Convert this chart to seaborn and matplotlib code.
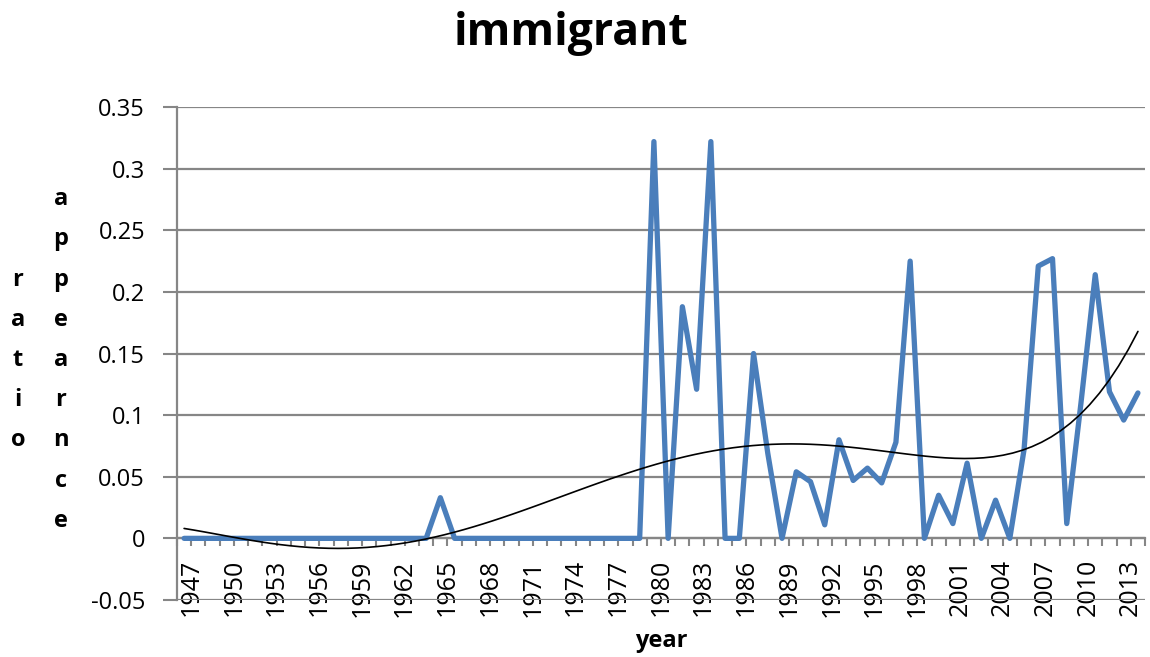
import numpy as np
import matplotlib
matplotlib.use("Agg")
import matplotlib.pyplot as plt
import matplotlib.transforms as mtransforms
import seaborn as sns

# yearly appearance ratio of the word "immigrant"
years = list(range(1947, 2015))
ratio = [
    0, 0, 0, 0, 0, 0, 0, 0, 0, 0, 0, 0, 0, 0, 0, 0, 0, 0,   # 1947-1964
    0.033,                                                  # 1965
    0, 0, 0, 0, 0, 0, 0, 0, 0, 0, 0, 0, 0, 0,               # 1966-1979
    0.322, 0, 0.188, 0.121, 0.322, 0, 0, 0.150, 0.069, 0,   # 1980-1989
    0.054, 0.046, 0.011, 0.080, 0.047, 0.057, 0.045, 0.078, 0.225, 0,  # 1990-1999
    0.035, 0.012, 0.061, 0, 0.031, 0, 0.072, 0.221, 0.227, 0.012,      # 2000-2009
    0.110, 0.214, 0.119, 0.096, 0.118,                      # 2010-2014
]
y_ticks = [-0.05, 0, 0.05, 0.1, 0.15, 0.2, 0.25, 0.3, 0.35]
y_tick_labels = ["-0.05", "0", "0.05", "0.1", "0.15", "0.2", "0.25", "0.3", "0.35"]
label_step = 3
trend_order = 5

title = "immigrant"
x_title = "year"
y_title_cols = ["ratio", "appearnce"]

GRID = "#868686"
BLUE = "#4A7EBB"

sns.set_style("white")
plt.rcParams["font.family"] = ["Open Sans", "DejaVu Sans"]
for key in ["text.color", "axes.labelcolor", "xtick.labelcolor", "ytick.labelcolor"]:
    plt.rcParams[key] = "black"

fig = plt.figure(figsize=(11.5, 6.57), dpi=100)
ax = fig.add_axes([0.1539, 0.0868, 0.9957 - 0.1539, 0.837 - 0.0868])

pos = np.arange(len(years))

sns.lineplot(x=pos, y=ratio, color=BLUE, lw=3.8, ax=ax, zorder=3,
             solid_joinstyle="round", solid_capstyle="round")
# polynomial trend line fitted to the series
sns.regplot(x=pos, y=ratio, order=trend_order, ci=None, scatter=False, ax=ax,
            line_kws={"color": "black", "lw": 1.2, "zorder": 4})

ax.set_xlim(-0.5, len(years) - 0.5)
ax.set_ylim(y_ticks[0], y_ticks[-1])
ax.set_xticks([])
ax.set_xlabel("")
ax.set_ylabel("")
ax.set_yticks(y_ticks, labels=y_tick_labels)
ax.tick_params(axis="y", length=10, width=1.5, color=GRID, pad=13,
               labelsize=17, left=True, labelcolor="black")
ax.yaxis.grid(True, color=GRID, lw=1.6)
ax.xaxis.grid(False)
for side in ["top", "right", "bottom"]:
    ax.spines[side].set_visible(False)
ax.spines["left"].set_color(GRID)
ax.spines["left"].set_linewidth(1.6)

# category axis crossing at zero
sec = ax.secondary_xaxis(0, transform=ax.transData)
sec.set_xticks(pos[::label_step], labels=[str(y) for y in years[::label_step]])
sec.set_xticks(np.arange(len(years) + 1) - 0.5, minor=True)
sec.tick_params(axis="x", which="major", length=0, pad=15, labelsize=18,
                labelrotation=90, labelcolor="black")
sec.tick_params(axis="x", which="minor", length=6, width=1.5, color=GRID,
                direction="out")
sec.spines["bottom"].set_color(GRID)
sec.spines["bottom"].set_linewidth(1.6)
shift = mtransforms.ScaledTranslation(7 / 100, 0, fig.dpi_scale_trans)
for lbl in sec.get_xticklabels():
    lbl.set_transform(lbl.get_transform() + shift)

fig.text(0.497, 1 - 45 / 657, title, ha="center", va="baseline",
         fontsize=32, fontweight="bold")
fig.text(0.5748, 1 - 647 / 657, x_title, ha="center", va="baseline",
         fontsize=17, fontweight="bold")
fig.text(18 / 1150, 1 - 360 / 657, "\n".join(y_title_cols[0]), ha="center",
         va="center", fontsize=17, fontweight="bold", linespacing=1.9)
fig.text(61 / 1150, 1 - 360 / 657, "\n".join(y_title_cols[1]), ha="center",
         va="center", fontsize=17, fontweight="bold", linespacing=1.9)

fig.savefig("out.png", dpi=100)
